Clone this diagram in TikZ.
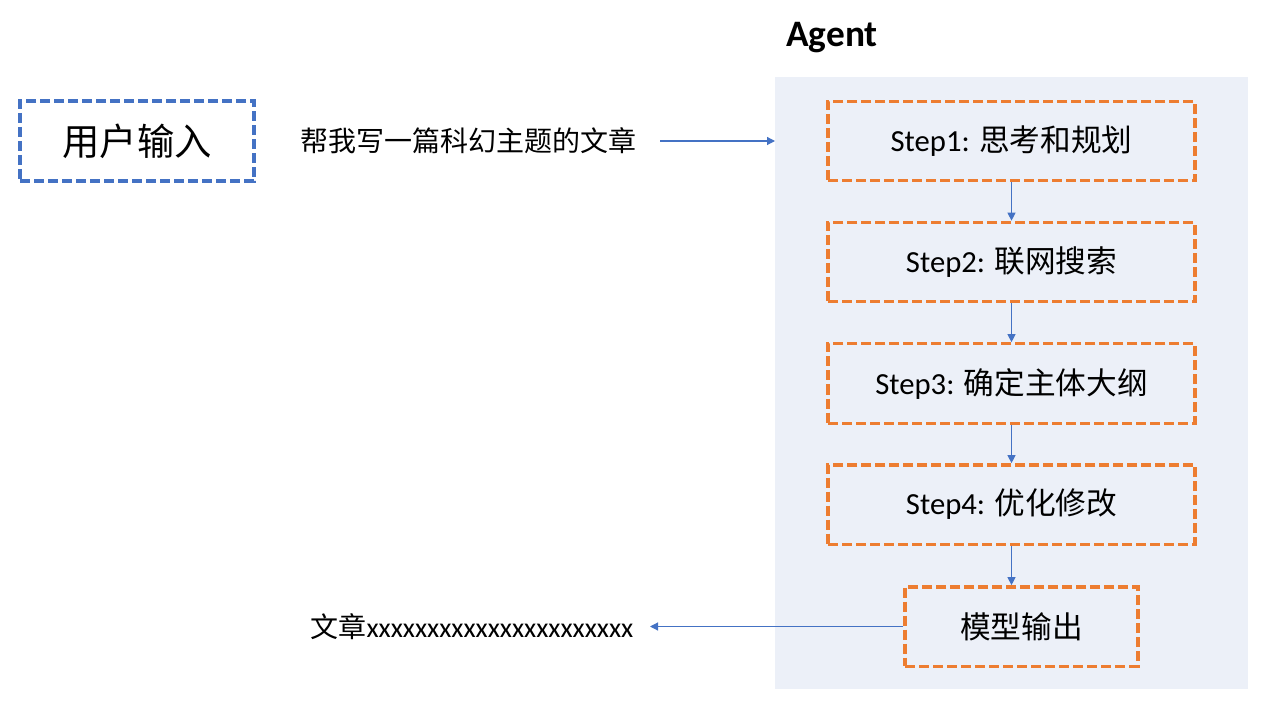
\documentclass[tikz,border=0pt]{standalone}
\usepackage{fontspec}
\setmainfont{Carlito}
\newfontfamily\cjk{Noto Sans CJK SC}
\usetikzlibrary{arrows.meta}
\definecolor{boxblue}{RGB}{68,114,196}
\definecolor{boxorange}{RGB}{237,125,49}
\definecolor{agentbg}{RGB}{236,240,248}
\tikzset{
  userbox/.style={draw=boxblue, line width=2.5pt, dash pattern=on 7.5pt off 3pt,
    minimum width=175.5pt, minimum height=60pt, inner sep=0pt, font=\fontsize{28}{32}\selectfont\cjk},
  stepbox/.style={draw=boxorange, line width=2.5pt, dash pattern=on 7.5pt off 3pt,
    minimum width=275.25pt, minimum height=59.5pt, inner sep=0pt, font=\fontsize{23}{27}\selectfont},
  outbox/.style={draw=boxorange, line width=2.5pt, dash pattern=on 7.5pt off 3pt,
    minimum width=174.75pt, minimum height=59.5pt, inner sep=0pt, font=\fontsize{23}{27}\selectfont\cjk},
  plain/.style={inner sep=0pt, font=\fontsize{21}{25}\selectfont},
  conn/.style={draw=boxblue, line width=0.85pt, -{Triangle[length=6pt,width=6pt]}}
}
\begin{document}
\begin{tikzpicture}[x=0.75pt,y=-0.75pt]
\useasboundingbox (0,0) rectangle (1280,712);
\fill[agentbg] (775,77) rectangle (1248,689);
\node[inner sep=0pt, font=\fontsize{28}{32}\selectfont\bfseries] (agent) at (832,38) {Agent};
\node[userbox] (user) at (137,141) {用户输入};
\node[plain] (req) at (468,141) {\cjk 帮我写一篇科幻主题的文章};
\coordinate (reqend) at (660,141);
\coordinate (agentin) at (775,141);
\node[stepbox] (s1) at (1011.5,141) {Step1: {\cjk 思考和规划}};
\node[stepbox] (s2) at (1011.5,262) {Step2: {\cjk 联网搜索}};
\node[stepbox] (s3) at (1011.5,383.5) {Step3: {\cjk 确定主体大纲}};
\node[stepbox] (s4) at (1011.5,504.5) {Step4: {\cjk 优化修改}};
\node[outbox] (out) at (1021.5,626.5) {模型输出};
\node[plain] (res) at (472,627) {{\cjk 文章}xxxxxxxxxxxxxxxxxxxxxx};
\coordinate (resend) at (650,626.5);
\draw[conn] (reqend) -- (agentin);
\draw[conn] (s1.south) -- (s2.north);
\draw[conn] (s2.south) -- (s3.north);
\draw[conn] (s3.south) -- (s4.north);
\draw[conn] (s4.south) -- (s4.south |- out.north);
\draw[conn] (out.west) -- (resend);
\end{tikzpicture}
\end{document}
